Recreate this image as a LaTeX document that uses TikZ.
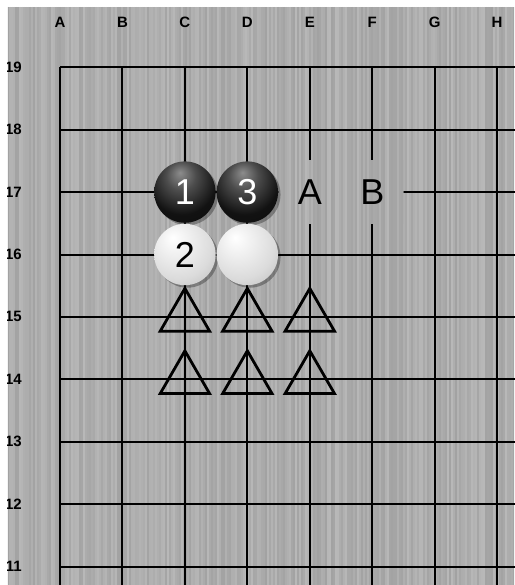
\documentclass[tikz,border=0pt]{standalone}
\usepackage{fontspec}
\setmainfont{Liberation Sans}
\usetikzlibrary{shapes.geometric}
\definecolor{boardbg}{RGB}{172,172,172}
\pgfdeclareradialshading{blackstone}{\pgfpoint{-4bp}{16bp}}{color(0bp)=(black!45); color(12bp)=(black!70); color(28bp)=(black!93); color(70bp)=(black)}
\pgfdeclareradialshading{whitestone}{\pgfpoint{-10bp}{14bp}}{color(0bp)=(white); color(10bp)=(white!95!black); color(28bp)=(white!86!black); color(44bp)=(white!73!black); color(56bp)=(white!60!black); color(70bp)=(white!55!black)}
\newcommand{\boardstripes}{%
  \fill[boardbg] (-52pt,60.3pt) rectangle (454pt,-517.7pt);
  \pgfmathsetseed{7}%
  \foreach \i in {0,...,253}{
    \pgfmathrandominteger{\g}{162}{184}
    \definecolor{stripe}{RGB}{\g,\g,\g}
    \draw[stripe, line width=1.1pt] ({-52pt+2*\i*1pt},60.3pt) -- ({-52pt+2*\i*1pt},-517.7pt);
  }%
}
\tikzset{
  gridline/.style={line width=2pt, black},
  stonebase/.style={circle, minimum size=61.4pt, inner sep=0pt, font=\fontsize{36}{36}\selectfont},
  bstone/.style={stonebase, shading=blackstone, text=white},
  wstone/.style={stonebase, shading=whitestone, text=black},
  shadowdisc/.style={circle, minimum size=61.4pt, inner sep=0pt, fill=black, opacity=0.3},
  marktri/.style={regular polygon, regular polygon sides=3, minimum size=57pt, inner sep=0pt, draw=black, line width=2.8pt},
  boardlabel/.style={minimum size=62pt, inner sep=0pt, font=\fontsize{36}{36}\selectfont, text=black},
  coordlabel/.style={font=\fontsize{15}{15}\selectfont\bfseries, text=black, inner sep=0pt}
}
\begin{document}
\begin{tikzpicture}[x=62.45pt, y=-62.4pt]
\useasboundingbox (-60pt,67.3pt) rectangle (454pt,-517.7pt);
\fill[white] (-60pt,67.3pt) rectangle (454pt,-517.7pt);
\begin{scope}
\clip (-52pt,60.3pt) rectangle (454pt,-517.7pt);
\boardstripes
% coordinates
\foreach \l [count=\c from 0] in {A,B,C,D,E,F,G,H}
  \node[coordlabel] (col\l) at (\c,-0.715) {\l};
\foreach \n [count=\r from 0] in {19,18,17,16,15,14,13,12,11}
  \node[coordlabel, anchor=east] (row\n) at (-0.608,\r) {\n};
\end{scope}
% grid
\foreach \c in {0,...,7}
  \draw[gridline] (\c,0) -- (\c,8.3);
\foreach \r in {0,...,8}
  \draw[gridline] (0,\r) -- (7.3,\r);
% clear the grid behind the letters A and B
\begin{scope}
\clip (3.5,1.5) rectangle (5.5,2.5);
\boardstripes
\end{scope}
\node[boardlabel] (lblA) at (4,2) {A};
\node[boardlabel] (lblB) at (5,2) {B};
% triangles
\node[marktri] (t1) at (2,4) {};
\node[marktri] (t2) at (3,4) {};
\node[marktri] (t3) at (4,4) {};
\node[marktri] (t4) at (2,5) {};
\node[marktri] (t5) at (3,5) {};
\node[marktri] (t6) at (4,5) {};
% stone shadows
\foreach \px/\py [count=\k] in {2/2,3/2,2/3,3/3}
  \node[shadowdisc] (sh\k) at ([shift={(2.5pt,-2.5pt)}]\px,\py) {};
% stones
\node[bstone] (s1) at (2,2) {1};
\node[bstone] (s3) at (3,2) {3};
\node[wstone] (s2) at (2,3) {2};
\node[wstone] (s4) at (3,3) {};
\end{tikzpicture}
\end{document}
